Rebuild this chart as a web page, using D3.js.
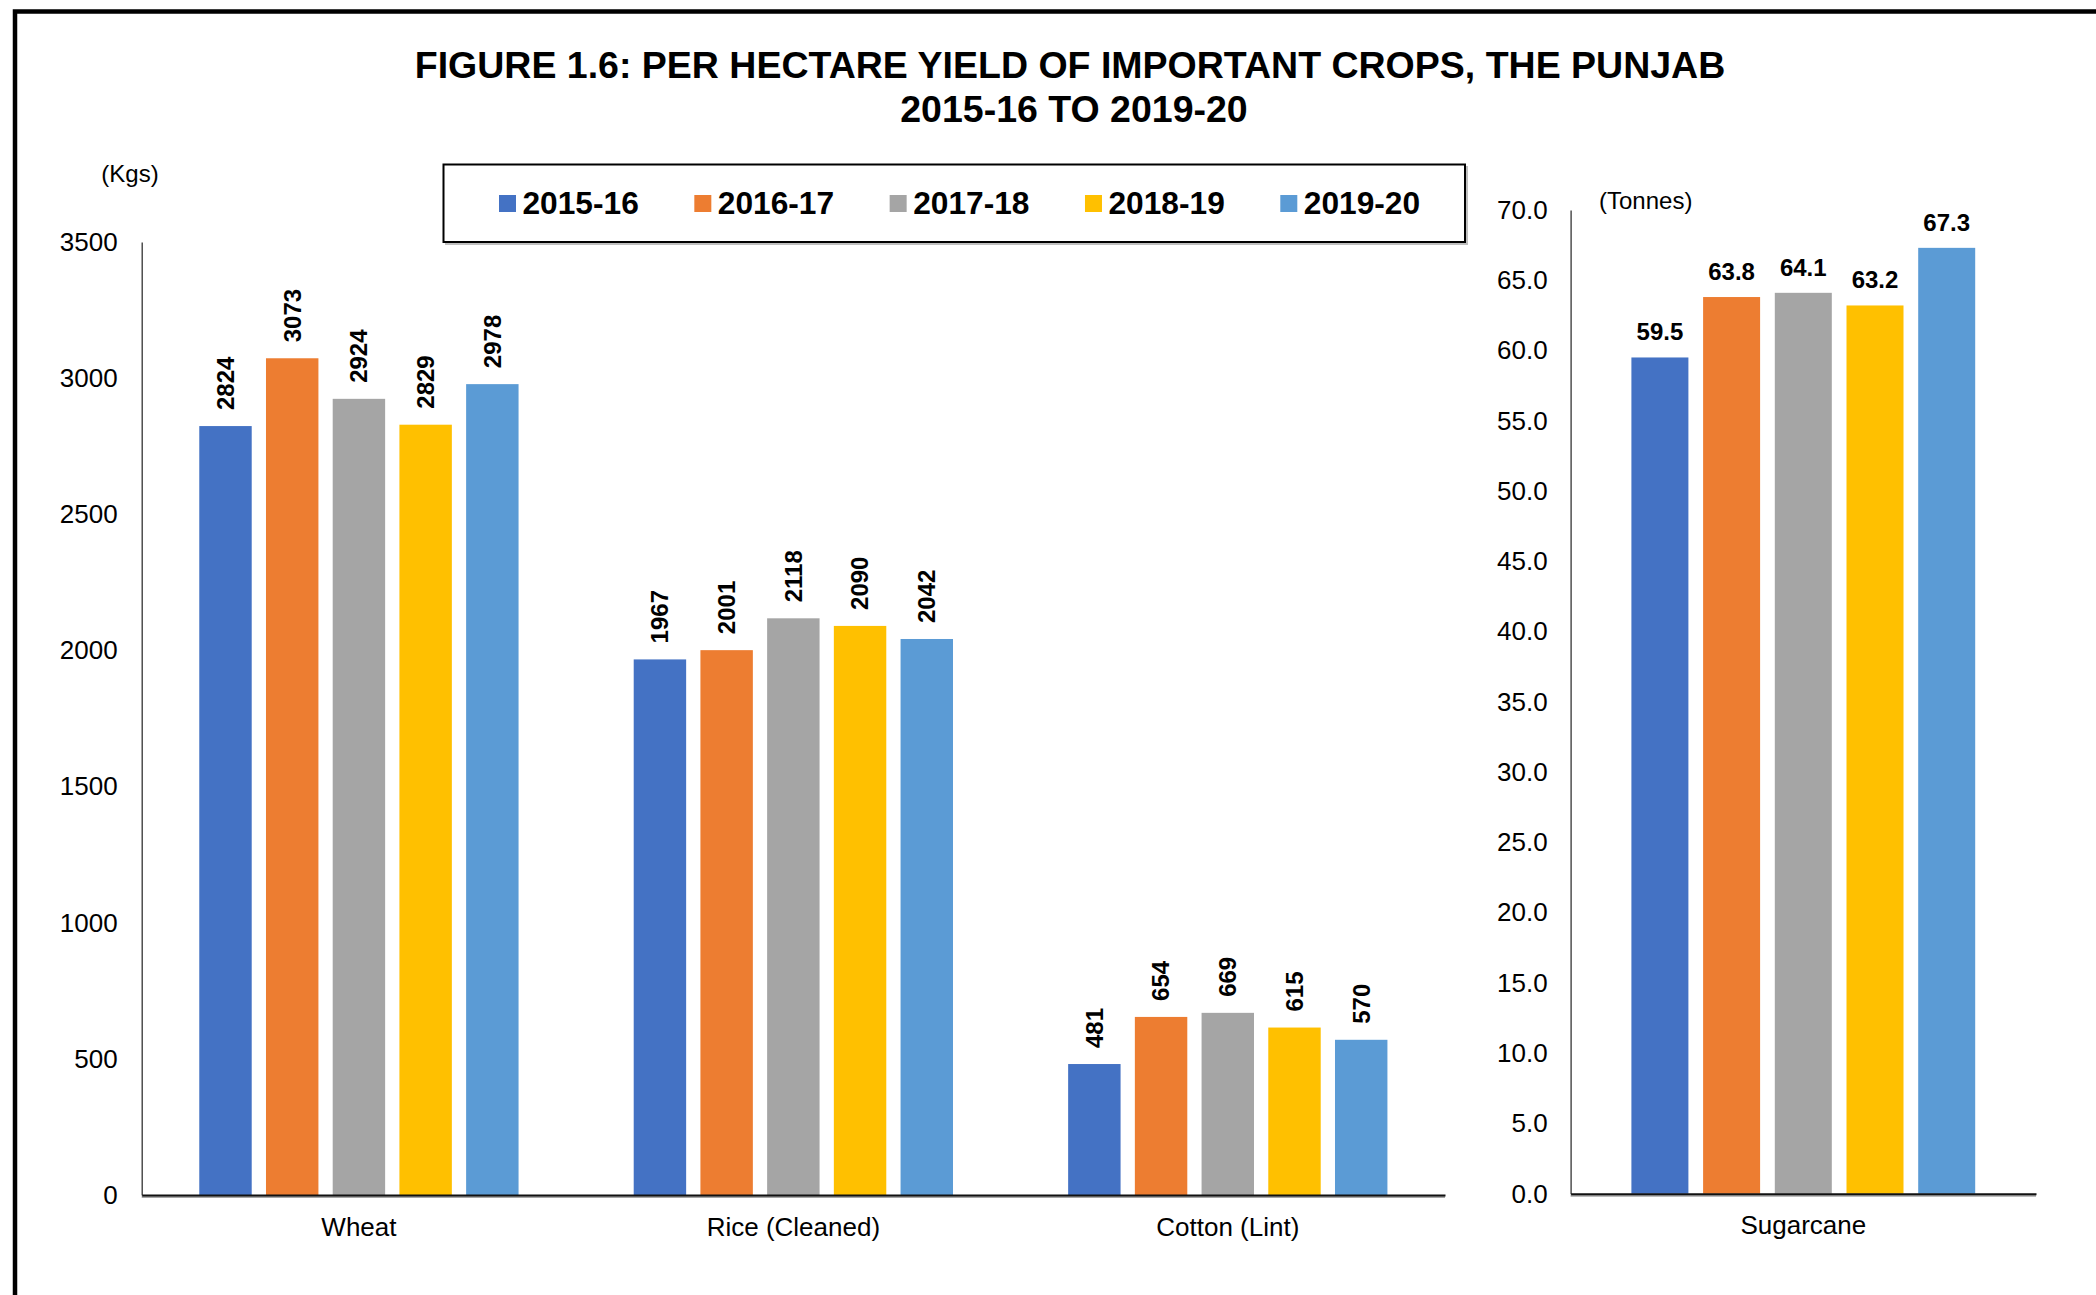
<!DOCTYPE html>
<html>
<head>
<meta charset="utf-8">
<script src="https://cdn.jsdelivr.net/npm/d3@7"></script>
<style>
  body { margin: 0; background: #fff; }
  svg { display: block; font-family: "Liberation Sans", Arial, sans-serif; }
</style>
</head>
<body>
<div class="chart"></div>
<script>
// Data
const crops = ["Wheat", "Rice (Cleaned)", "Cotton (Lint)"];
const years = ["2015-16", "2016-17", "2017-18", "2018-19", "2019-20"];
const wheat = [2824, 3073, 2924, 2829, 2978];
const rice = [1967, 2001, 2118, 2090, 2042];
const cotton = [481, 654, 669, 615, 570];
const sugarcaneLabel = ["Sugarcane"];
const sugarcane = [59.5, 63.8, 64.1, 63.2, 67.3];
const kgTicks = [0, 500, 1000, 1500, 2000, 2500, 3000, 3500];
const tonneTicks = [0, 5, 10, 15, 20, 25, 30, 35, 40, 45, 50, 55, 60, 65, 70];
const colors = ["#4472C4", "#ED7D31", "#A5A5A5", "#FFC000", "#5B9BD5"];

const width = 2096;
const height = 1295;

const svg = d3.select(".chart").append("svg")
    .attr("width", width)
    .attr("height", height);

svg.append("rect").attr("width", width).attr("height", height).attr("fill", "#fff");

// outer frame (only top and left edges show)
svg.append("path")
    .attr("d", `M15,${height} V11.5 H${width}`)
    .attr("fill", "none")
    .attr("stroke", "#000")
    .attr("stroke-width", 4.5);

// Title
svg.append("text")
    .attr("x", 1070).attr("y", 78)
    .attr("text-anchor", "middle")
    .attr("font-size", 37.5).attr("font-weight", "bold")
    .text("FIGURE 1.6: PER HECTARE YIELD OF IMPORTANT CROPS, THE PUNJAB");
svg.append("text")
    .attr("x", 1074).attr("y", 121.5)
    .attr("text-anchor", "middle")
    .attr("font-size", 37.5).attr("font-weight", "bold")
    .text("2015-16 TO 2019-20");

// ---------- Left chart (Kgs) ----------
const leftSeries = [wheat, rice, cotton];
const leftData = crops.map((c, i) => ({ crop: c, values: leftSeries[i] }));

const x0 = d3.scaleBand().domain(crops).range([141.7, 1445]).padding(0);
const x1 = d3.scaleBand().domain(years).range([0, x0.bandwidth()])
    .paddingInner(0.214).paddingOuter(0.863);
const yL = d3.scaleLinear().domain([0, 3500]).range([1195, 242]);

const gL = svg.append("g");

// y axis
const yAxisL = gL.append("g")
    .attr("transform", "translate(141.7,0)")
    .call(d3.axisLeft(yL).tickValues(kgTicks).tickSize(0).tickPadding(24).tickFormat(d3.format("d")));
yAxisL.select(".domain").attr("stroke", "#333").attr("stroke-width", 1.3);
yAxisL.selectAll("text").attr("font-size", 26).attr("font-family", "Liberation Sans, Arial, sans-serif").attr("fill", "#000");

// bars
const groupsL = gL.selectAll(".crop")
    .data(leftData)
    .enter().append("g")
    .attr("class", "crop")
    .attr("transform", d => `translate(${x0(d.crop)},0)`);

groupsL.selectAll("rect")
    .data(d => d.values.map((v, i) => ({ year: years[i], value: v })))
    .enter().append("rect")
    .attr("x", d => x1(d.year))
    .attr("y", d => yL(d.value))
    .attr("width", x1.bandwidth())
    .attr("height", d => yL(0) - yL(d.value))
    .attr("fill", (d, i) => colors[i]);

groupsL.selectAll(".lbl")
    .data(d => d.values.map((v, i) => ({ year: years[i], value: v })))
    .enter().append("text")
    .attr("class", "lbl")
    .attr("transform", d => `translate(${x1(d.year) + x1.bandwidth() / 2},${yL(d.value) - 16}) rotate(-90)`)
    .attr("dy", "0.35em")
    .attr("text-anchor", "start")
    .attr("font-size", 24).attr("font-weight", "bold")
    .text(d => d.value);

// x axis
gL.append("line").attr("x1", 141.7).attr("x2", 1445).attr("y1", yL(0) + 2).attr("y2", yL(0) + 2)
    .attr("stroke", "#a6a6a6").attr("stroke-width", 2);
const xAxisL = gL.append("g")
    .attr("transform", `translate(0,${yL(0)})`)
    .call(d3.axisBottom(x0).tickSize(0).tickPadding(23));
xAxisL.select(".domain").attr("stroke", "#111").attr("stroke-width", 2);
xAxisL.selectAll("text").attr("font-size", 26).attr("font-family", "Liberation Sans, Arial, sans-serif").attr("fill", "#000");

svg.append("text").attr("x", 130).attr("y", 182).attr("text-anchor", "middle")
    .attr("font-size", 24).text("(Kgs)");

// ---------- Right chart (Tonnes) ----------
const xS = d3.scaleBand().domain(sugarcaneLabel).range([1570.6, 2036]).padding(0);
const xS1 = d3.scaleBand().domain(years).range([0, xS.bandwidth()])
    .paddingInner(0.205).paddingOuter(0.848);
const yR = d3.scaleLinear().domain([0, 70]).range([1193.7, 209.9]);

const gR = svg.append("g");
const yAxisR = gR.append("g")
    .attr("transform", "translate(1570.6,0)")
    .call(d3.axisLeft(yR).tickValues(tonneTicks).tickSize(0).tickPadding(23).tickFormat(d3.format(".1f")));
yAxisR.select(".domain").attr("stroke", "#333").attr("stroke-width", 1.3);
yAxisR.selectAll("text").attr("font-size", 26).attr("font-family", "Liberation Sans, Arial, sans-serif").attr("fill", "#000");

const sugarData = sugarcane.map((v, i) => ({ year: years[i], value: v }));
const gS = gR.append("g").attr("transform", `translate(${xS("Sugarcane")},0)`);
gS.selectAll("rect")
    .data(sugarData)
    .enter().append("rect")
    .attr("x", d => xS1(d.year))
    .attr("y", d => yR(d.value))
    .attr("width", xS1.bandwidth())
    .attr("height", d => yR(0) - yR(d.value))
    .attr("fill", (d, i) => colors[i]);
gS.selectAll(".lbl")
    .data(sugarData)
    .enter().append("text")
    .attr("class", "lbl")
    .attr("x", d => xS1(d.year) + xS1.bandwidth() / 2)
    .attr("y", d => yR(d.value) - 17)
    .attr("text-anchor", "middle")
    .attr("font-size", 24).attr("font-weight", "bold")
    .text(d => d3.format(".1f")(d.value));

gR.append("line").attr("x1", 1570.6).attr("x2", 2036).attr("y1", yR(0) + 2).attr("y2", yR(0) + 2)
    .attr("stroke", "#a6a6a6").attr("stroke-width", 2);
const xAxisR = gR.append("g")
    .attr("transform", `translate(0,${yR(0)})`)
    .call(d3.axisBottom(xS).tickSize(0).tickPadding(22));
xAxisR.select(".domain").attr("stroke", "#111").attr("stroke-width", 2);
xAxisR.selectAll("text").attr("font-size", 26).attr("font-family", "Liberation Sans, Arial, sans-serif").attr("fill", "#000");

svg.append("text").attr("x", 1599).attr("y", 209)
    .attr("font-size", 24).text("(Tonnes)");

// ---------- Legend ----------
const legend = svg.append("g");
legend.append("rect").attr("x", 445).attr("y", 166).attr("width", 1023).attr("height", 79)
    .attr("fill", "#bfbfbf");
legend.append("rect").attr("x", 443.5).attr("y", 164.5).attr("width", 1021.5).attr("height", 77.5)
    .attr("fill", "#fff").attr("stroke", "#000").attr("stroke-width", 2);

const legendX = d3.scalePoint().domain(years).range([499, 1280.3]);
const items = legend.selectAll(".item")
    .data(years)
    .enter().append("g")
    .attr("class", "item")
    .attr("transform", d => `translate(${legendX(d)},0)`);
items.append("rect").attr("x", 0).attr("y", 195).attr("width", 17).attr("height", 17)
    .attr("fill", (d, i) => colors[i]);
items.append("text").attr("x", 23.5).attr("y", 214.3)
    .attr("font-size", 31.7).attr("font-weight", "bold")
    .text(d => d);
</script>
</body>
</html>
